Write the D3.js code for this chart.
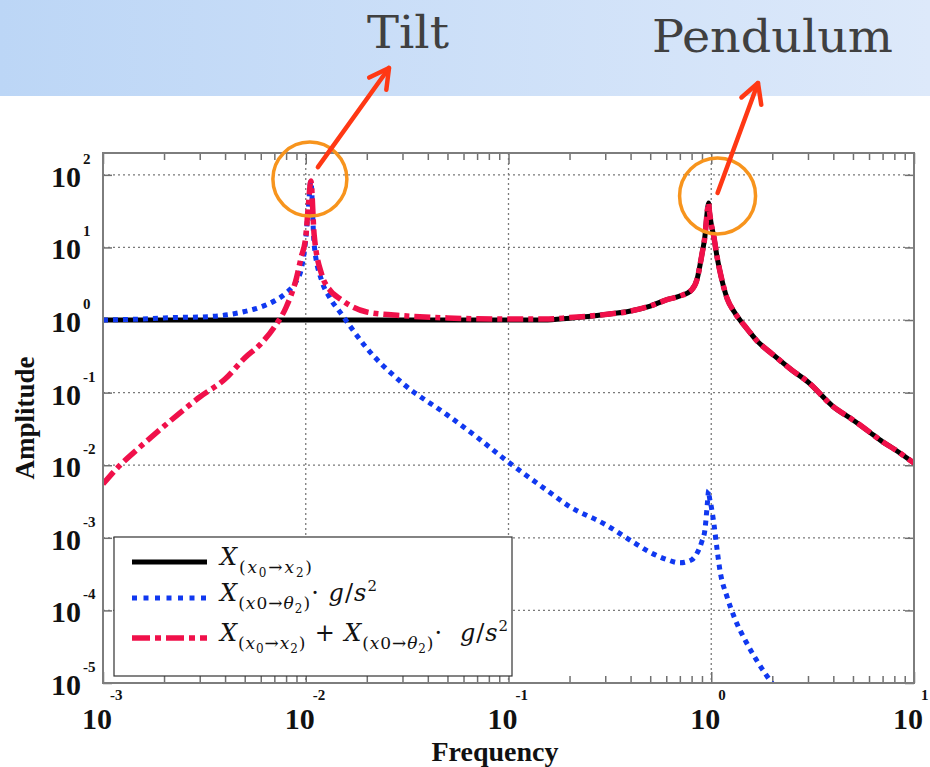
<!DOCTYPE html>
<html><head><meta charset="utf-8">
<script src="https://cdn.jsdelivr.net/npm/d3@7"></script>
<style>html,body{margin:0;padding:0;background:#fff;overflow:hidden}svg{display:block}</style>
</head><body>
<svg id="c" width="930" height="767"></svg>
<script>
// ---------- DATA ----------
const freq = [0.001, 0.0012, 0.0015, 0.002, 0.0025, 0.003, 0.004, 0.005, 0.006, 0.007, 0.008, 0.009, 0.0095, 0.01, 0.0103, 0.0106, 0.011, 0.012, 0.013, 0.015, 0.02, 0.03, 0.05, 0.07, 0.1, 0.15, 0.2, 0.3, 0.4, 0.5, 0.6, 0.7, 0.8, 0.85, 0.9, 0.93, 0.96, 0.97, 0.98, 1.0, 1.03, 1.07, 1.1, 1.2, 1.3, 1.5, 1.7, 2, 2.5, 3, 4, 5, 6, 7, 8, 10];
// X(x0->x2)
const ampX0X2 = [1, 1, 1, 1, 1, 1, 1, 1, 1, 1, 1, 1, 1, 1, 1, 1, 1, 1, 1, 1, 1, 1, 1, 1, 1, 1, 1.06, 1.19, 1.33, 1.56, 1.89, 2.14, 2.6, 3.6, 8.1, 14, 35, 41, 31, 21, 14, 7.2, 4.9, 1.95, 1.29, 0.76, 0.5, 0.34, 0.204, 0.14, 0.064, 0.042, 0.029, 0.021, 0.0166, 0.0107];
// X(x0->theta2) . g/s^2
const ampX0Theta2 = [1, 1.01, 1.03, 1.07, 1.09, 1.1, 1.17, 1.31, 1.51, 1.83, 2.36, 3.45, 5.0, 13, 35, 82, 11, 3.45, 2.14, 1.21, 0.41, 0.135, 0.049, 0.0243, 0.011, 0.0048, 0.0027, 0.00153, 0.00092, 0.00063, 0.000505, 0.000452, 0.000497, 0.00061, 0.0009, 0.00127, 0.0033, 0.0045, 0.0036, 0.0027, 0.00158, 0.00067, 0.00038, 0.00015, 0.00008, 0.000035, 0.0000192, 0.0000098, null, null, null, null, null, null, null, null];
// X(x0->x2) + X(x0->theta2) . g/s^2
const ampSum = [0.0055, 0.0097, 0.0172, 0.0345, 0.058, 0.087, 0.154, 0.3, 0.47, 0.8, 1.5, 3.8, 7.4, 14, 38, 82, 15, 4.2, 2.7, 1.9, 1.29, 1.15, 1.07, 1.04, 1.03, 1.03, 1.08, 1.19, 1.33, 1.56, 1.89, 2.14, 2.6, 3.6, 8.1, 14, 35, 41, 31, 21, 14, 7.2, 4.9, 1.95, 1.29, 0.76, 0.5, 0.34, 0.204, 0.14, 0.064, 0.042, 0.029, 0.021, 0.0166, 0.0107];
const xTickExps = [-3, -2, -1, 0, 1];
const yTickExps = [2, 1, 0, -1, -2, -3, -4, -5];
const annotationLabels = ["Tilt", "Pendulum"];
const xTitle = "Frequency";
const yTitle = "Amplitude";

// ---------- LAYOUT ----------
const svg = d3.select("#c");
const L = 103, R = 914, T = 153, B = 683;
const x = d3.scaleLog().domain([1e-3, 1e1]).range([L, R]);
const y = d3.scaleLog().domain([1e-5, 200]).range([B, T]);
const tickFont = "'Liberation Serif','Times New Roman',serif";

// banner
const defs = svg.append("defs");
const g1 = defs.append("linearGradient").attr("id", "bn").attr("x1", 0).attr("x2", 1).attr("y1", 0).attr("y2", 0);
g1.append("stop").attr("offset", 0).attr("stop-color", "#bcd6f6");
g1.append("stop").attr("offset", 1).attr("stop-color", "#dde9fa");
svg.append("rect").attr("x", 0).attr("y", 0).attr("width", 930).attr("height", 96).attr("fill", "url(#bn)");
defs.append("clipPath").attr("id", "pc").append("rect").attr("x", L).attr("y", T).attr("width", R - L).attr("height", B - T);

// grid
const majorX = xTickExps.map(e => Math.pow(10, e));
const majorY = yTickExps.map(e => Math.pow(10, e));
const minorX = [];
for (let e = -3; e < 1; e++) for (let k = 2; k <= 9; k++) minorX.push(k * Math.pow(10, e));

const grid = svg.append("g");
grid.selectAll(".gx").data(majorX.slice(1, -1)).join("line")
  .attr("x1", d => x(d)).attr("x2", d => x(d)).attr("y1", T).attr("y2", B)
  .attr("stroke", "#7a7a7a").attr("stroke-width", 1.3).attr("stroke-dasharray", "2,3");
grid.selectAll(".gy").data(majorY.filter(d => d < 200 && d > 1e-5)).join("line")
  .attr("x1", L).attr("x2", R).attr("y1", d => y(d)).attr("y2", d => y(d))
  .attr("stroke", "#7a7a7a").attr("stroke-width", 1.3).attr("stroke-dasharray", "2,3");

// ticks via d3 axes
const axB = svg.append("g").attr("transform", `translate(0,${B})`)
  .call(d3.axisBottom(x).tickValues(minorX).tickSize(-7).tickFormat(""));
const axBm = svg.append("g").attr("transform", `translate(0,${B})`)
  .call(d3.axisBottom(x).tickValues(majorX).tickSize(-11).tickFormat(""));
const axT = svg.append("g").attr("transform", `translate(0,${T})`)
  .call(d3.axisTop(x).tickValues(minorX).tickSize(-7).tickFormat(""));
const axTm = svg.append("g").attr("transform", `translate(0,${T})`)
  .call(d3.axisTop(x).tickValues(majorX).tickSize(-11).tickFormat(""));
const axL = svg.append("g").attr("transform", `translate(${L},0)`)
  .call(d3.axisLeft(y).tickValues(majorY).tickSize(-9).tickFormat(""));
const axR = svg.append("g").attr("transform", `translate(${R},0)`)
  .call(d3.axisRight(y).tickValues(majorY).tickSize(-9).tickFormat(""));
[axB, axBm, axT, axTm, axL, axR].forEach(a => {
  a.select(".domain").remove();
  a.selectAll(".tick line").attr("stroke", "#707070").attr("stroke-width", 1.5);
});

// curves
const pts = arr => freq.map((f, i) => ({ f, a: arr[i] }));
const line = d3.line().defined(d => d.a != null).x(d => x(d.f)).y(d => y(d.a)).curve(d3.curveMonotoneX);
const curves = svg.append("g").attr("clip-path", "url(#pc)");
curves.append("path").datum(pts(ampX0X2)).attr("d", line).attr("fill", "none")
  .attr("stroke", "#000").attr("stroke-width", 5);
curves.append("path").datum(pts(ampX0Theta2)).attr("d", line).attr("fill", "none")
  .attr("stroke", "#1038f0").attr("stroke-width", 5).attr("stroke-dasharray", "5,5");
curves.append("path").datum(pts(ampSum)).attr("d", line).attr("fill", "none")
  .attr("stroke", "#f0104a").attr("stroke-width", 5.5).attr("stroke-dasharray", "16,5,5,5");

// frame
svg.append("rect").attr("x", L).attr("y", T).attr("width", R - L).attr("height", B - T)
  .attr("fill", "none").attr("stroke", "#7d7d7d").attr("stroke-width", 2);

// tick labels
const yl = svg.append("g").attr("font-family", tickFont).attr("font-weight", "bold").attr("fill", "#111");
yTickExps.forEach(e => {
  const yy = y(Math.pow(10, e));
  yl.append("text").attr("x", 81).attr("y", yy + 12).attr("text-anchor", "end").attr("font-size", 30).text("10");
  yl.append("text").attr("x", 83).attr("y", yy - 11).attr("font-size", 15).text(String(e));
});
const xl = svg.append("g").attr("font-family", tickFont).attr("font-weight", "bold").attr("fill", "#111");
xTickExps.forEach(e => {
  const xx = x(Math.pow(10, e));
  xl.append("text").attr("x", xx - 6).attr("y", 729).attr("text-anchor", "middle").attr("font-size", 30).text("10");
  xl.append("text").attr("x", xx + 7).attr("y", 700).attr("font-size", 15).text(String(e));
});
svg.append("text").attr("x", 495).attr("y", 761).attr("text-anchor", "middle")
  .attr("font-family", tickFont).attr("font-weight", "bold").attr("font-size", 28).attr("fill", "#111").text(xTitle);
svg.append("text").attr("transform", "translate(34,418) rotate(-90)").attr("text-anchor", "middle")
  .attr("font-family", tickFont).attr("font-weight", "bold").attr("font-size", 27).attr("fill", "#111").text(yTitle);

// legend
const lg = svg.append("g");
lg.append("rect").attr("x", 114).attr("y", 537).attr("width", 398).attr("height", 139)
  .attr("fill", "#fff").attr("stroke", "#333").attr("stroke-width", 1.2);
const legendRows = [
  { y: 562, stroke: "#000", dash: null, w: 5, len: 92,
    parts: [["X",0,1],["(",1,0],["x",1,1],["0",2,0],["→",1,0],["x",1,1],["2",2,0],[")",1,0]] },
  { y: 598, stroke: "#1038f0", dash: "5,6.5", w: 5, len: 157,
    parts: [["X",0,1],["(",1,0],["x",1,1],["0",1,0],["→",1,0],["θ",1,1],["2",2,0],[")",1,0],["·",0,0],[" g",0,1],["/",0,0],["s",0,1],["2",-1,0]] },
  { y: 638, stroke: "#f0104a", dash: "18,5,6,5", w: 5.5, len: 288,
    parts: [["X",0,1],["(",1,0],["x",1,1],["0",2,0],["→",1,0],["x",1,1],["2",2,0],[")",1,0],[" + ",0,0],["X",0,1],["(",1,0],["x",1,1],["0",1,0],["→",1,0],["θ",1,1],["2",2,0],[")",1,0],["·  ",0,0],["g",0,1],["/",0,0],["s",0,1],["2",-1,0]] }
];
const sizes = { "0": 24, "1": 17, "2": 12, "-1": 15 };
const offs = { "0": 0, "1": 8, "2": 12, "-1": -10 };
legendRows.forEach(r => {
  lg.append("line").attr("x1", 132).attr("x2", 207).attr("y1", r.y).attr("y2", r.y)
    .attr("stroke", r.stroke).attr("stroke-width", r.w).attr("stroke-dasharray", r.dash);
  const t = lg.append("text").attr("x", 220).attr("y", r.y + 3)
    .attr("font-family", "'DejaVu Serif',serif").attr("fill", "#111").style("white-space", "pre")
    .attr("textLength", r.len).attr("lengthAdjust", "spacing");
  let cur = 0;
  r.parts.forEach(([s, lvl, it]) => {
    const o = offs[lvl];
    t.append("tspan").attr("dy", o - cur).attr("font-size", sizes[lvl])
      .attr("font-style", it ? "italic" : "normal").text(s);
    cur = o;
  });
});

// annotations: peaks found from the data
const pk = (lo, hi) => {
  let bi = -1;
  freq.forEach((f, i) => { if (f > lo && f < hi && (bi < 0 || ampSum[i] > ampSum[bi])) bi = i; });
  return { px: x(freq[bi]), py: y(ampSum[bi]) };
};
const tiltP = pk(1e-3, 0.1), pendP = pk(0.1, 10);
const ann = [
  { p: tiltP, c: [-1, -2], r: 37, s: [7, -14], tip: [389, 68], lx: 367, ly: 48, tl: 82, fs: 44 },
  { p: pendP, c: [9, -7], r: 38, s: [9, -10], tip: [758, 83], lx: 652, ly: 52, tl: 241, fs: 44 }
];
ann.forEach((a, i) => {
  const cx = a.p.px + a.c[0], cy = a.p.py + a.c[1];
  svg.append("circle").attr("cx", cx).attr("cy", cy).attr("r", a.r)
    .attr("fill", "none").attr("stroke", "#f7941d").attr("stroke-width", 3.5);
  const sx = a.p.px + a.s[0], sy = a.p.py + a.s[1];
  const [tx, ty] = a.tip;
  const ang = Math.atan2(ty - sy, tx - sx);
  const hl = 22, ha = 0.5;
  const ag = svg.append("g").attr("stroke", "#ff3814").attr("stroke-width", 4.5).attr("stroke-linecap", "round").attr("fill", "none");
  ag.append("line").attr("x1", sx).attr("y1", sy).attr("x2", tx).attr("y2", ty);
  ag.append("path").attr("d",
    `M${tx - hl * Math.cos(ang - ha)},${ty - hl * Math.sin(ang - ha)} L${tx},${ty} L${tx - hl * Math.cos(ang + ha)},${ty - hl * Math.sin(ang + ha)}`)
    .attr("stroke-linejoin", "round");
  svg.append("text").attr("x", a.lx).attr("y", a.ly).attr("font-family", "'DejaVu Serif',serif")
    .attr("font-size", a.fs).attr("fill", "#404040")
    .attr("textLength", a.tl).attr("lengthAdjust", "spacingAndGlyphs").text(annotationLabels[i]);
});
</script>
</body></html>
